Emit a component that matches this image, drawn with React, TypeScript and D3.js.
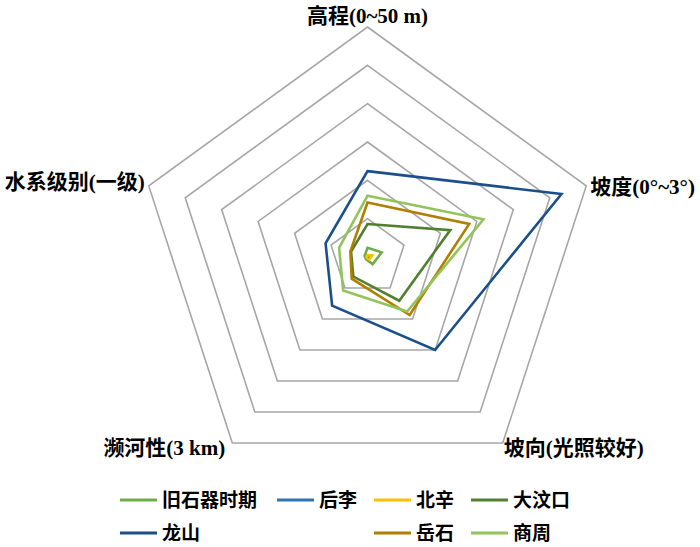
import React from "react";
import * as d3 from "d3";

const axes = ["高程(0~50 m)", "坡度(0°~3°)", "坡向(光照较好)", "濒河性(3 km)", "水系级别(一级)"];
const seriesNames = ["旧石器时期", "后李", "北辛", "大汶口", "龙山", "岳石", "商周"];
const seriesColors = ["#70AD47", "#2E75B6", "#FFC000", "#507F2E", "#1A4F8A", "#B07F00", "#92C45A"];
// values per axis: 高程, 坡度, 坡向, 濒河性, 水系级别
const v旧石器时期 = [2.4, 3.9, 2.3, 0.7, 0.8];
const v后李 = [0.4, 1.0, 0.6, 0.2, 0.2];
const v北辛 = [0.5, 1.3, 0.8, 0.3, 0.3];
const v大汶口 = [8.6, 22.7, 14.1, 6.3, 4.5];
const v龙山 = [22.4, 53.2, 30.0, 15.7, 11.5];
const v岳石 = [14.2, 27.9, 18.7, 7.0, 4.7];
const v商周 = [16.0, 31.8, 17.6, 10.8, 7.8];
const seriesValues = [v旧石器时期, v后李, v北辛, v大汶口, v龙山, v岳石, v商周];
const gridLevels = [10, 20, 30, 40, 50, 60];

const W = 700, H = 547;
const cx = 367.5, cy = 257, R = 230;
const FONT = "'Liberation Serif', 'Noto Sans CJK SC', serif";

export default function App() {
  const r = d3.scaleLinear().domain([0, 60]).range([0, R]);
  const angle = d3.scaleLinear().domain([0, axes.length]).range([0, 2 * Math.PI]);
  const pt = (i: number, v: number): [number, number] => {
    const a = angle(i);
    return [cx + r(v) * Math.sin(a), cy - r(v) * Math.cos(a)];
  };
  const line = d3.line<[number, number]>().curve(d3.curveLinearClosed);
  const poly = (vals: number[]) => line(vals.map((v, i) => pt(i, v))) as string;

  // label placements relative to vertices
  const labelProps = axes.map((_, i) => {
    const [x, y] = pt(i, 60);
    if (i === 0) return { x, y: y - 11, anchor: "middle" };
    if (i === 1) return { x: x + 4, y: y + 1, anchor: "start" };
    if (i === 2) return { x: x + 1, y: y + 5, anchor: "start" };
    if (i === 3) return { x: x - 7, y: y + 5, anchor: "end" };
    return { x: x - 4, y: y - 4, anchor: "end" };
  });

  const legendCols = [120, 277, 374, 471];
  const legendRows = [500, 533];
  const lineLen = 37;

  return (
    <svg width={W} height={H} style={{ position: "absolute", left: 0, top: 0, background: "#fff" }} fontFamily={FONT}>
      <g>
        {gridLevels.map((lv) => (
          <path key={lv} d={poly(axes.map(() => lv))} fill="none" stroke="#A6A6A6" strokeWidth={1.6} />
        ))}
      </g>
      <g>
        {seriesValues.map((vals, si) => (
          <path key={si} d={poly(vals)} fill="none" stroke={seriesColors[si]} strokeWidth={2.6} strokeLinejoin="miter" />
        ))}
      </g>
      <g fontSize={21} fontWeight="bold" fill="#000">
        {axes.map((t, i) => (
          <text key={t} x={labelProps[i].x} y={labelProps[i].y} textAnchor={labelProps[i].anchor as any} dominantBaseline="central">{t}</text>
        ))}
      </g>
      <g fontSize={19} fontWeight="bold">
        {seriesNames.map((n, i) => {
          const x0 = i < 4 ? legendCols[i] : legendCols[i - 4 === 0 ? 0 : i - 3];
          const y0 = legendRows[i < 4 ? 0 : 1];
          return (
            <g key={n}>
              <line x1={x0} x2={x0 + lineLen} y1={y0} y2={y0} stroke={seriesColors[i]} strokeWidth={3} />
              <text x={x0 + lineLen + 5} y={y0} dominantBaseline="central">{n}</text>
            </g>
          );
        })}
      </g>
    </svg>
  );
}
